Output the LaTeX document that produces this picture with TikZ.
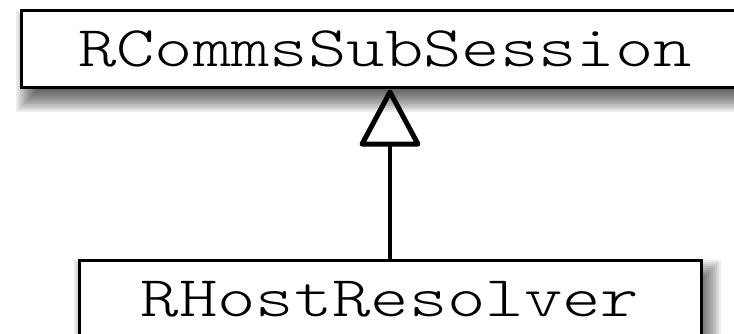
\documentclass[tikz,border=0pt]{standalone}
\usepackage{fontspec}
\newfontfamily\courfont[FakeStretch=1.27]{Latin Modern Mono Light}
\usetikzlibrary{arrows.meta}
\tikzset{
  classbox/.style={draw=black, line width=3pt, fill=white, rectangle, inner sep=0pt,
    font=\courfont\fontsize{57.5}{66}\selectfont, text height=35pt, text depth=0pt,
    minimum height=77pt},
  inherit/.style={line width=4.5pt, -{Triangle[open, length=60pt, width=63pt, line width=5pt, round]}},
}
\newcommand\softshadow[4]{%
  \foreach \e in {-6,...,6}{%
    \fill[black, opacity=0.075] ({#1-2*(\e)},{#2+2*(\e)}) rectangle ({#3+2*(\e)},{#4-2*(\e)});
  }%
}
\begin{document}
\begin{tikzpicture}[x=1pt,y=1pt]
  \useasboundingbox (0,0) rectangle (734,-334);
  \clip (0,0) rectangle (734,-334);
  \fill[white] (0,0) rectangle (734,-334);
  % shadows
  \softshadow{28}{-23}{757}{-100}
  \softshadow{86}{-272}{709}{-350}
  % boxes
  \node[classbox, minimum width=728pt] (super) at (385,-49.5) {RCommsSubSession};
  \node[classbox, minimum width=622pt] (sub) at (390,-298.5) {RHostResolver};
  \draw[inherit] (sub.north) -- (sub.north |- super.south);
\end{tikzpicture}
\end{document}
